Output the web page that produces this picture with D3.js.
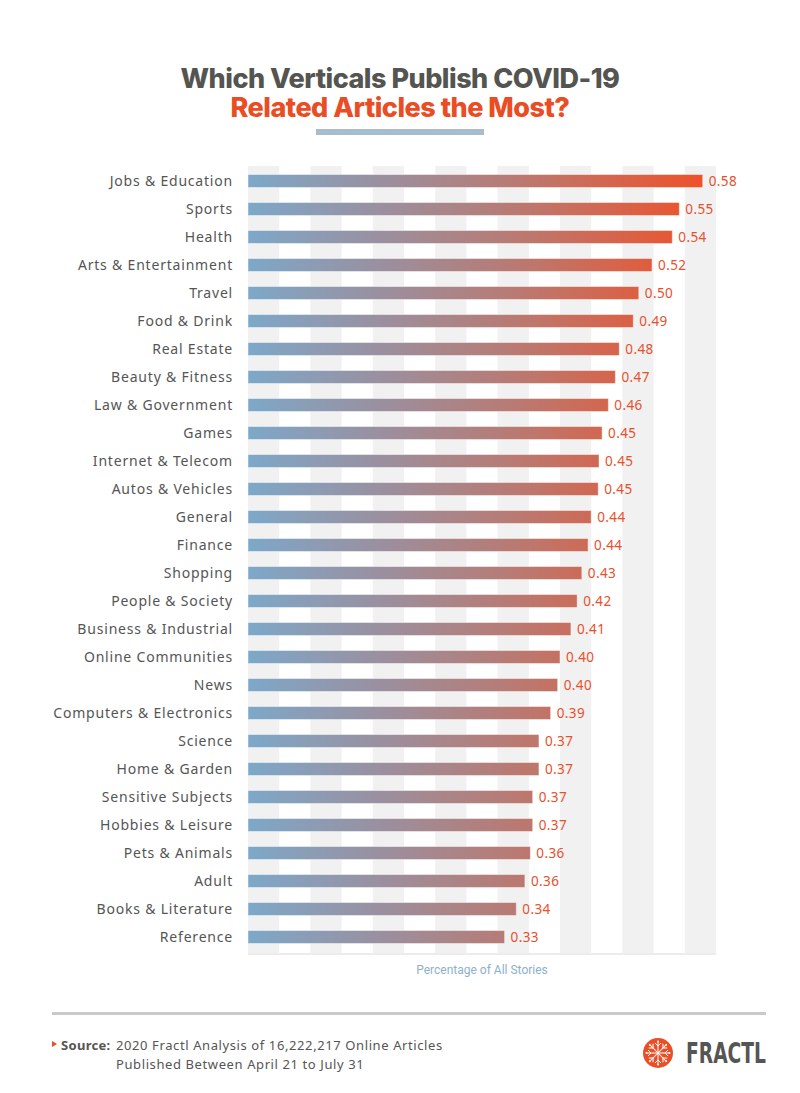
<!DOCTYPE html>
<html>
<head>
<meta charset="utf-8">
<script src="https://cdn.jsdelivr.net/npm/d3@7"></script>
<style>
  html, body { margin: 0; padding: 0; background: #fff; }
  svg { display: block; }
</style>
</head>
<body>
<svg id="chart" width="800" height="1093"></svg>
<script>
const categories = ["Jobs & Education","Sports","Health","Arts & Entertainment","Travel","Food & Drink","Real Estate","Beauty & Fitness","Law & Government","Games","Internet & Telecom","Autos & Vehicles","General","Finance","Shopping","People & Society","Business & Industrial","Online Communities","News","Computers & Electronics","Science","Home & Garden","Sensitive Subjects","Hobbies & Leisure","Pets & Animals","Adult","Books & Literature","Reference"];
const values = [0.583,0.553,0.544,0.518,0.501,0.494,0.476,0.471,0.462,0.454,0.450,0.449,0.440,0.436,0.428,0.422,0.414,0.400,0.397,0.388,0.373,0.373,0.365,0.365,0.362,0.355,0.344,0.329];
const valueLabels = ["0.58","0.55","0.54","0.52","0.50","0.49","0.48","0.47","0.46","0.45","0.45","0.45","0.44","0.44","0.43","0.42","0.41","0.40","0.40","0.39","0.37","0.37","0.37","0.37","0.36","0.36","0.34","0.33"];
const stripeStarts = [0, 0.08, 0.16, 0.24, 0.32, 0.40, 0.48, 0.56];
const stripeWidth = 0.04;

const svg = d3.select("#chart");
const x = d3.scaleLinear().domain([0, 0.6]).range([248, 716]);
const y = d3.scaleBand().domain(categories).range([167, 951]).padding(0);
const barH = 13;

// gradient
const defs = svg.append("defs");
const grad = defs.append("linearGradient").attr("id", "barGrad")
  .attr("gradientUnits", "userSpaceOnUse")
  .attr("x1", x(0)).attr("x2", x(0.583)).attr("y1", 0).attr("y2", 0);
grad.append("stop").attr("offset", "0%").attr("stop-color", "#7da8c9");
grad.append("stop").attr("offset", "30%").attr("stop-color", "#9b8f9e");
grad.append("stop").attr("offset", "62%").attr("stop-color", "#bd776d");
grad.append("stop").attr("offset", "100%").attr("stop-color", "#ef512a");

// Title
svg.append("text").attr("x", 400).attr("y", 88).attr("text-anchor", "middle")
  .attr("font-family", "Inter, 'Open Sans', sans-serif").attr("font-weight", 800)
  .attr("font-size", 27).attr("fill", "#545450").attr("letter-spacing", -0.5)
  .text("Which Verticals Publish COVID-19");
svg.append("text").attr("x", 400).attr("y", 117).attr("text-anchor", "middle")
  .attr("font-family", "Inter, 'Open Sans', sans-serif").attr("font-weight", 800)
  .attr("font-size", 27).attr("fill", "#ea4c24").attr("letter-spacing", -0.5)
  .text("Related Articles the Most?");
svg.append("rect").attr("x", 316).attr("y", 129).attr("width", 168).attr("height", 6).attr("fill", "#a7bccd");

// stripes
svg.append("g").selectAll("rect").data(stripeStarts).join("rect")
  .attr("x", d => x(d)).attr("width", d => x(d + stripeWidth) - x(d))
  .attr("y", 166).attr("height", 788).attr("fill", "#f1f1f1");
svg.append("rect").attr("x", x(0)).attr("width", x(0.6) - x(0)).attr("y", 953).attr("height", 2).attr("fill", "#ececec");

// bars
const rows = categories.map((c, i) => ({c, v: values[i], lab: valueLabels[i]}));
svg.append("g").selectAll("rect").data(rows).join("rect")
  .attr("x", x(0)).attr("y", d => y(d.c) + y.bandwidth() / 2 - barH / 2)
  .attr("width", d => x(d.v) - x(0)).attr("height", barH)
  .attr("fill", "url(#barGrad)")
  .attr("stroke", "rgba(255,255,255,0.45)").attr("stroke-width", 1);

// value labels
svg.append("g").selectAll("text").data(rows).join("text")
  .attr("x", d => x(d.v) + 6).attr("y", d => y(d.c) + y.bandwidth() / 2 + 5)
  .attr("font-family", "'Noto Sans', sans-serif").attr("font-size", 13.5)
  .attr("letter-spacing", 0.4)
  .attr("fill", "#e8502c").text(d => d.lab);

// category labels
svg.append("g").selectAll("text").data(rows).join("text")
  .attr("x", 233).attr("y", d => y(d.c) + y.bandwidth() / 2 + 5)
  .attr("text-anchor", "end")
  .attr("font-family", "'Noto Sans', sans-serif").attr("font-size", 14)
  .attr("letter-spacing", 0.8)
  .attr("fill", "#555555").text(d => d.c);

// axis title
svg.append("text").attr("x", 482).attr("y", 974).attr("text-anchor", "middle")
  .attr("font-family", "Roboto, sans-serif").attr("font-size", 12)
  .attr("fill", "#8eb0cc").text("Percentage of All Stories");

// footer line
svg.append("rect").attr("x", 52).attr("y", 1012).attr("width", 714).attr("height", 3).attr("fill", "#c9c9c9");

// source
svg.append("path").attr("d", "M52,1041 L57,1044 L52,1047 Z").attr("fill", "#e94e27");
const src = svg.append("text").attr("x", 61).attr("y", 1050)
  .attr("font-family", "'Noto Sans', sans-serif").attr("font-size", 13).attr("fill", "#555")
  .attr("letter-spacing", 0.6);
src.append("tspan").attr("font-weight", 700).attr("letter-spacing", 0.3).text("Source:");
src.append("tspan").attr("x", 116).text("2020 Fractl Analysis of 16,222,217 Online Articles");
svg.append("text").attr("x", 116).attr("y", 1069)
  .attr("font-family", "'Noto Sans', sans-serif").attr("font-size", 13).attr("fill", "#555")
  .attr("letter-spacing", 0.6)
  .text("Published Between April 21 to July 31");

// logo
const logo = svg.append("g").attr("transform", "translate(658,1053)");
logo.append("circle").attr("r", 15).attr("fill", "#e94e27");
const arms = d3.range(0, 360, 45);
arms.forEach(a => {
  const g = logo.append("g").attr("transform", `rotate(${a})`);
  g.append("line").attr("x1", 0).attr("y1", 0).attr("x2", 0).attr("y2", -11).attr("stroke", "#fff").attr("stroke-width", 1);
  g.append("path").attr("d", "M-3,-10 L0,-7 L3,-10").attr("fill", "none").attr("stroke", "#fff").attr("stroke-width", 1);
  g.append("circle").attr("cy", -11.5).attr("r", 1).attr("fill", "#fff");
});
svg.append("text").attr("x", 686).attr("y", 1063)
  .attr("font-family", "'Liberation Sans Narrow', 'DejaVu Sans Condensed', sans-serif")
  .attr("font-weight", 700).attr("font-size", 28).attr("fill", "#555")
  .attr("textLength", 80).attr("lengthAdjust", "spacingAndGlyphs")
  .text("FRACTL");
</script>
</body>
</html>
